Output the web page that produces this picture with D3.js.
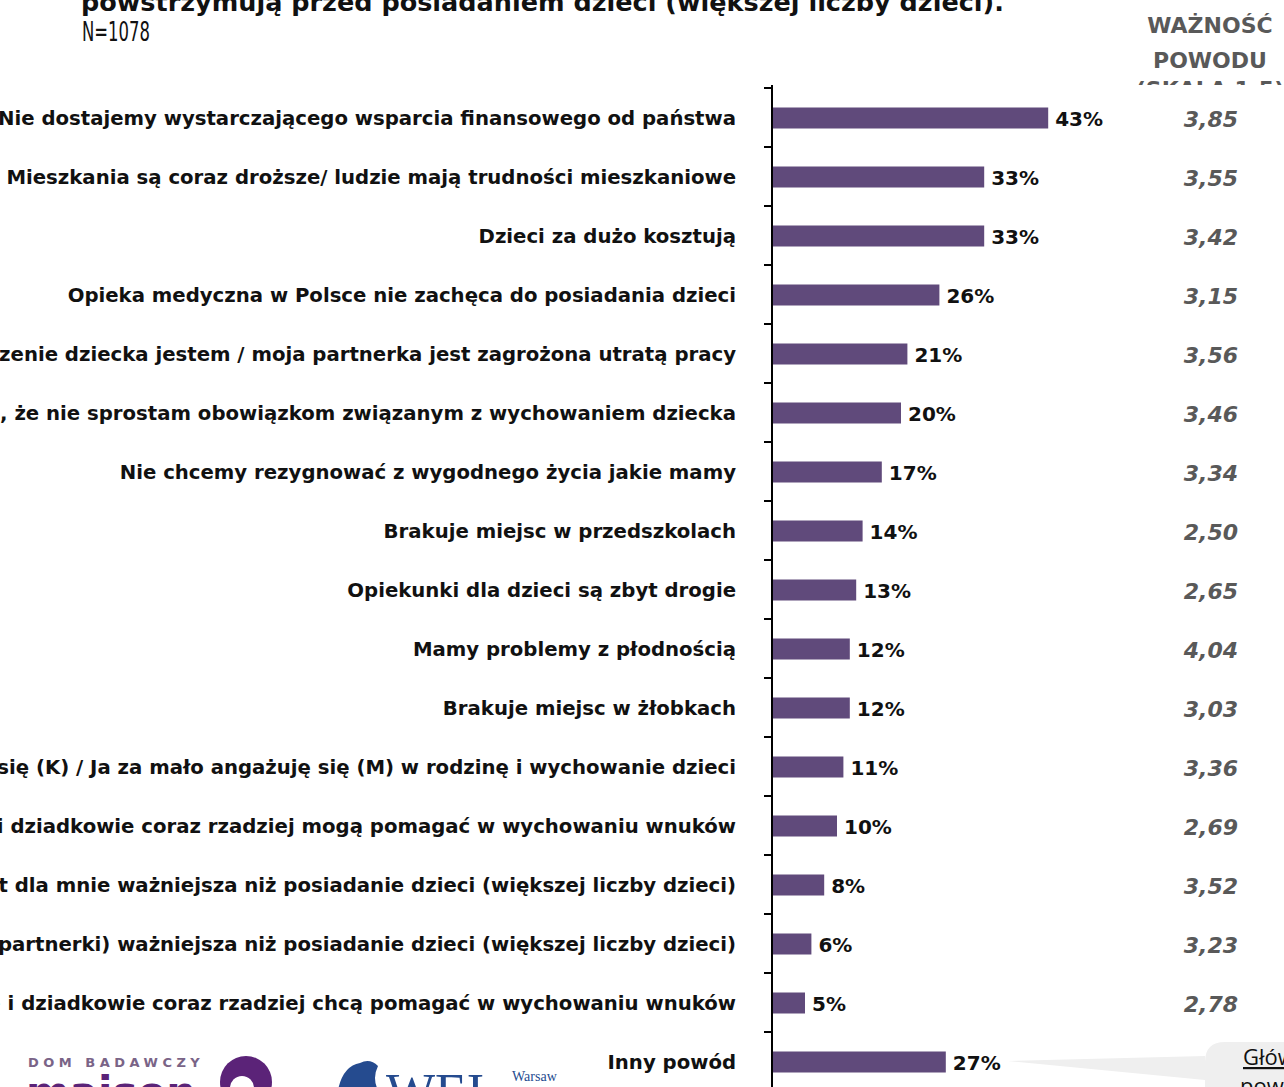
<!DOCTYPE html>
<html>
<head>
<meta charset="utf-8">
<script src="https://cdn.jsdelivr.net/npm/d3@7"></script>
<style>
  body { margin: 0; background: #fff; }
  svg { display: block; }
</style>
</head>
<body>
<div class="content"></div>
<script>
// reasons, share of answers (%) and importance (scale 1-5)
var categories = [
  "Nie dostajemy wystarczającego wsparcia finansowego od państwa",
  "Mieszkania są coraz droższe/ ludzie mają trudności mieszkaniowe",
  "Dzieci za dużo kosztują",
  "Opieka medyczna w Polsce nie zachęca do posiadania dzieci",
  "Za urodzenie dziecka jestem / moja partnerka jest zagrożona utratą pracy",
  "Obawiam się, że nie sprostam obowiązkom związanym z wychowaniem dziecka",
  "Nie chcemy rezygnować z wygodnego życia jakie mamy",
  "Brakuje miejsc w przedszkolach",
  "Opiekunki dla dzieci są zbyt drogie",
  "Mamy problemy z płodnością",
  "Brakuje miejsc w żłobkach",
  "Partner za mało angażuje się (K) / Ja za mało angażuję się (M) w rodzinę i wychowanie dzieci",
  "Babcie i dziadkowie coraz rzadziej mogą pomagać w wychowaniu wnuków",
  "Kariera jest dla mnie ważniejsza niż posiadanie dzieci (większej liczby dzieci)",
  "Kariera partnera (partnerki) ważniejsza niż posiadanie dzieci (większej liczby dzieci)",
  "Babcie i dziadkowie coraz rzadziej chcą pomagać w wychowaniu wnuków",
  "Inny powód"
];
var shares = [43, 33, 33, 26, 21, 20, 17, 14, 13, 12, 12, 11, 10, 8, 6, 5, 27];
var importance = ["3,85", "3,55", "3,42", "3,15", "3,56", "3,46", "3,34", "2,50", "2,65",
                  "4,04", "3,03", "3,36", "2,69", "3,52", "3,23", "2,78", ""];
var titleText = "powstrzymują przed posiadaniem dzieci (większej liczby dzieci).";
var subtitleText = "N=1078";
var headerLines = ["WAŻNOŚĆ", "POWODU", "(SKALA 1-5)"];

function render(){
var width = 1284, height = 1087;
var axisX = 772;

var svg = d3.select("body").selectAll(".content").append("svg")
    .attr("width", width)
    .attr("height", height);

var data = categories.map(function(c, i) {
  return {cat: c, v: shares[i], imp: importance[i]};
});

var x = d3.scaleLinear().domain([0, 100]).range([axisX + 1, axisX + 1 + 640]);
var y = d3.scaleBand().domain(categories).range([88, 88 + 59 * categories.length]);

// title (cut at the top of the slide)
svg.append("text")
    .attr("x", 81).attr("y", 11)
    .attr("font-family", "DejaVu Sans, sans-serif")
    .attr("font-weight", "bold")
    .attr("font-size", 25.5)
    .attr("fill", "#111")
    .text(titleText);
svg.append("text")
    .attr("x", 82).attr("y", 41)
    .attr("font-family", "DejaVu Sans Condensed, sans-serif")
    .attr("font-size", 27)
    .attr("textLength", 68)
    .attr("lengthAdjust", "spacingAndGlyphs")
    .attr("fill", "#111")
    .text(subtitleText);

// column header on the right
svg.selectAll(".hdr").data(headerLines).enter().append("text")
    .attr("class", "hdr")
    .attr("x", 1210)
    .attr("y", function(d, i) { return [33, 68, 97][i]; })
    .attr("text-anchor", "middle")
    .attr("font-family", "DejaVu Sans, sans-serif")
    .attr("font-weight", "bold")
    .attr("font-size", 22)
    .attr("fill", "#595959")
    .text(function(d) { return d; });
svg.append("rect")
    .attr("x", 1090).attr("y", 85).attr("width", 194).attr("height", 22)
    .attr("fill", "#fff");

// bars
svg.selectAll(".bar").data(data).enter().append("rect")
    .attr("class", "bar")
    .attr("x", x(0))
    .attr("y", function(d) { return y(d.cat) + y.bandwidth() / 2 - 10; })
    .attr("width", function(d) { return x(d.v) - x(0); })
    .attr("height", 21)
    .attr("fill", "#604a7b");

// value labels
svg.selectAll(".val").data(data).enter().append("text")
    .attr("class", "val")
    .attr("x", function(d) { return x(d.v) + 7; })
    .attr("y", function(d) { return y(d.cat) + y.bandwidth() / 2 + 8; })
    .attr("font-family", "DejaVu Sans, sans-serif")
    .attr("font-weight", "bold")
    .attr("font-size", 20)
    .attr("fill", "#111")
    .text(function(d) { return d.v + "%"; });

// category labels
svg.selectAll(".cat").data(data).enter().append("text")
    .attr("class", "cat")
    .attr("x", 736)
    .attr("y", function(d) { return y(d.cat) + y.bandwidth() / 2 + 7; })
    .attr("text-anchor", "end")
    .attr("font-family", "DejaVu Sans, sans-serif")
    .attr("font-weight", "bold")
    .attr("font-size", 19.7)
    .attr("fill", "#111")
    .text(function(d) { return d.cat; });

// importance column
svg.selectAll(".imp").data(data).enter().append("text")
    .attr("class", "imp")
    .attr("x", 1238)
    .attr("y", function(d) { return y(d.cat) + y.bandwidth() / 2 + 9; })
    .attr("text-anchor", "end")
    .attr("font-family", "DejaVu Sans, sans-serif")
    .attr("font-weight", "bold")
    .attr("font-style", "italic")
    .attr("font-size", 22)
    .attr("fill", "#595959")
    .text(function(d) { return d.imp; });

// axis line with ticks between categories
var tickPos = categories.map(function(c) { return y(c); });
svg.append("line")
    .attr("x1", axisX).attr("x2", axisX)
    .attr("y1", 85).attr("y2", height)
    .attr("stroke", "#000").attr("stroke-width", 2);
svg.selectAll(".tick").data(tickPos).enter().append("line")
    .attr("class", "tick")
    .attr("x1", axisX - 8).attr("x2", axisX)
    .attr("y1", function(d) { return d; })
    .attr("y2", function(d) { return d; })
    .attr("stroke", "#000").attr("stroke-width", 2);

// grey callout in the corner
svg.append("path")
    .attr("d", "M1008,1061 L1205,1056 L1205,1062 Q1205,1042 1225,1042 L1290,1042 L1290,1090 L1205,1090 L1205,1080 Z")
    .attr("fill", "#efefef");
svg.append("text")
    .attr("x", 1243).attr("y", 1065)
    .attr("font-family", "Open Sans, sans-serif")
    .attr("font-size", 22)
    .attr("fill", "#111")
    .attr("text-decoration", "underline")
    .text("Główne");
svg.append("text")
    .attr("x", 1240).attr("y", 1094)
    .attr("font-family", "Open Sans, sans-serif")
    .attr("font-size", 22)
    .attr("fill", "#111")
    .text("powody");

// logos (approximate)
var logo = svg.append("g");
logo.append("text")
    .attr("x", 28).attr("y", 1067)
    .attr("font-family", "DejaVu Sans, sans-serif")
    .attr("font-weight", "bold")
    .attr("font-size", 13)
    .attr("letter-spacing", 4.5)
    .attr("fill", "#7a6487")
    .text("DOM BADAWCZY");
logo.append("text")
    .attr("x", 26).attr("y", 1107)
    .attr("font-family", "DejaVu Sans, sans-serif")
    .attr("font-weight", "bold")
    .attr("font-size", 42)
    .attr("fill", "#5b2378")
    .text("maison");
logo.append("circle")
    .attr("cx", 246).attr("cy", 1082).attr("r", 26)
    .attr("fill", "#5b2378");
logo.append("circle")
    .attr("cx", 242).attr("cy", 1088).attr("r", 12)
    .attr("fill", "#fff");
logo.append("path")
    .attr("d", "M338,1090 Q343,1066 360,1063 Q370,1058 378,1066 Q372,1078 378,1090 Z")
    .attr("fill", "#254b8f");
logo.append("text")
    .attr("x", 386).attr("y", 1110)
    .attr("font-family", "Liberation Serif, serif")
    .attr("font-size", 52)
    .attr("fill", "#254b8f")
    .text("WEI");
logo.append("text")
    .attr("x", 512).attr("y", 1081)
    .attr("font-family", "Liberation Serif, serif")
    .attr("font-size", 14)
    .attr("fill", "#254b8f")
    .text("Warsaw");
}
render();
</script>
</body>
</html>
